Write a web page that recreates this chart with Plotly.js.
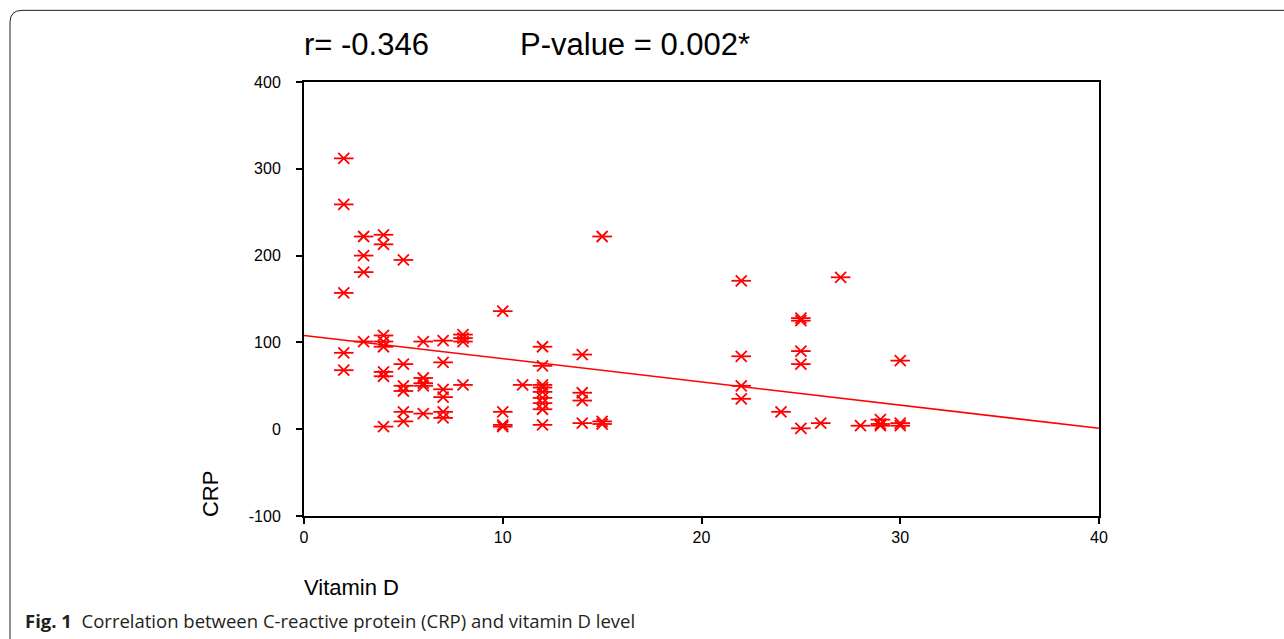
<!DOCTYPE html>
<html>
<head>
<meta charset="utf-8">
<script src="https://cdn.plot.ly/plotly-3.0.1.min.js"></script>
<style>html,body{margin:0;padding:0;background:#fff;}#chart{width:1284px;height:639px;}</style>
</head>
<body>
<div id="chart"></div>
<script>
// Vitamin D level (x) and CRP (y)
const vitaminD = [
  2,2,2,2,2,
  3,3,3,3,
  4,4,4,4,4,4,4,4,
  5,5,5,5,5,5,
  6,6,6,6,6,
  7,7,7,7,7,7,
  8,8,8,8,
  10,10,10,10,
  11,
  12,12,12,12,12,12,12,12,12,
  14,14,14,14,
  15,15,15,
  22,22,22,22,
  24,
  25,25,25,25,25,
  26,
  27,
  28,
  29,29,29,
  30,30,30
];
const crp = [
  312,259,157,88,68,
  222,200,181,101,
  224,213,108,101,95,66,61,3,
  195,75,50,44,20,9,
  101,59,53,50,18,
  102,77,46,37,20,13,
  109,105,101,51,
  136,20,5,3,
  51,
  95,73,51,48,43,36,30,23,5,
  86,42,33,7,
  222,9,6,
  171,84,50,35,
  20,
  128,125,90,75,1,
  7,
  175,
  4,
  11,6,4,
  79,7,4
];
// Fitted regression line end points as drawn
const fitX = [0, 40];
const fitY = [108, 1];

const xTicks = [0, 10, 20, 30, 40];
const yTicks = [-100, 0, 100, 200, 300, 400];

const titleR = "r= -0.346";
const titleP = "P-value = 0.002*";
const xTitle = "Vitamin D";
const yTitle = "CRP";
const caption = "<b>Fig. 1</b>  Correlation between C-reactive protein (CRP) and vitamin D level";

const RED = "#ff0000";

const traces = [
  {x: vitaminD, y: crp, type: "scatter", mode: "markers", hoverinfo: "skip",
   marker: {symbol: "x-thin-open", size: 11, color: RED, line: {color: RED, width: 1.8}}},
  {x: vitaminD, y: crp, type: "scatter", mode: "markers", hoverinfo: "skip",
   marker: {symbol: "line-ew-open", size: 14, color: RED, line: {color: RED, width: 1.8}}},
  {x: fitX, y: fitY, type: "scatter", mode: "lines", hoverinfo: "skip",
   line: {color: RED, width: 1.6}}
];

// pixel -> paper helpers for decoration placement
const PL = 304, PR = 1099, PT = 81.7, PB = 516;
const px = v => (v - PL) / (PR - PL);
const py = v => (PB - v) / (PB - PT);

const r = 12;
const framePath = `M ${px(10)} ${py(645)} L ${px(10)} ${py(10 + r)} Q ${px(10)} ${py(10)} ${px(10 + r)} ${py(10)} L ${px(1290)} ${py(10)}`;

const layout = {
  width: 1284, height: 639,
  margin: {l: PL, r: 1284 - PR, t: PT, b: 639 - PB, pad: 0},
  paper_bgcolor: "#ffffff", plot_bgcolor: "#ffffff",
  showlegend: false,
  font: {family: "Liberation Sans, Arial, sans-serif", color: "#000", size: 16},
  xaxis: {
    range: [0, 40], tickvals: xTicks, ticktext: xTicks.map(String),
    showgrid: false, zeroline: false, showline: true, linecolor: "#000", linewidth: 2,
    mirror: true, ticks: "outside", ticklen: 6, tickwidth: 2, tickcolor: "#000",
    tickfont: {size: 16, family: "Liberation Sans, Arial, sans-serif"}, ticklabelstandoff: 0
  },
  yaxis: {
    range: [-100, 400], tickvals: yTicks, ticktext: yTicks.map(String),
    showgrid: false, zeroline: false, showline: true, linecolor: "#000", linewidth: 2,
    mirror: true, ticks: "outside", ticklen: 6, tickwidth: 2, tickcolor: "#000",
    tickfont: {size: 16, family: "Liberation Sans, Arial, sans-serif"}, ticklabelstandoff: 12
  },
  annotations: [
    {text: titleR, xref: "paper", yref: "paper", x: px(302), y: py(44), xanchor: "left", yanchor: "middle",
     showarrow: false, font: {size: 31, family: "Liberation Sans, Arial, sans-serif", color: "#000"}},
    {text: titleP, xref: "paper", yref: "paper", x: px(518), y: py(44), xanchor: "left", yanchor: "middle",
     showarrow: false, font: {size: 31, family: "Liberation Sans, Arial, sans-serif", color: "#000"}},
    {text: yTitle, xref: "paper", yref: "paper", x: px(210), y: py(494), xanchor: "center", yanchor: "middle",
     textangle: -90, showarrow: false, font: {size: 22, family: "Liberation Sans, Arial, sans-serif", color: "#000"}},
    {text: xTitle, xref: "paper", yref: "paper", x: px(302), y: py(588), xanchor: "left", yanchor: "middle",
     showarrow: false, font: {size: 22, family: "Liberation Sans, Arial, sans-serif", color: "#000"}},
    {text: caption, xref: "paper", yref: "paper", x: px(23), y: py(621), xanchor: "left", yanchor: "middle",
     showarrow: false, font: {size: 18.5, family: "Open Sans, Noto Sans, sans-serif", color: "#231f20"}}
  ],
  shapes: [
    {type: "path", xref: "paper", yref: "paper", path: framePath, line: {color: "#231f20", width: 1}}
  ]
};

Plotly.newPlot("chart", traces, layout, {displayModeBar: false, staticPlot: true});
</script>
</body>
</html>
